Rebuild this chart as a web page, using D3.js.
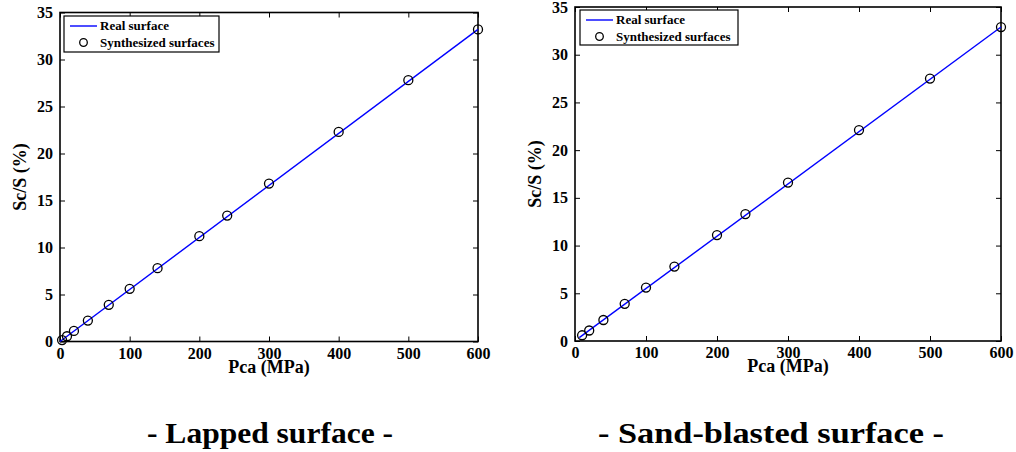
<!DOCTYPE html>
<html><head><meta charset="utf-8">
<script src="https://cdn.jsdelivr.net/npm/d3@7"></script>
<style>body{margin:0;background:#fff}svg{display:block}
text{font-family:"Liberation Serif","Times New Roman",Times,"DejaVu Serif",serif}</style>
</head><body>
<svg id="chart" width="1016" height="452"></svg>
<script>
// Data
const lappedPca = [3, 10, 20, 40, 70, 100, 140, 200, 240, 300, 400, 500, 600];
const lappedSc  = [0.15, 0.56, 1.12, 2.23, 3.9, 5.6, 7.8, 11.2, 13.4, 16.8, 22.3, 27.8, 33.2];
const lappedLineX = [0, 600];
const lappedLineY = [0, 33.2];
const sandPca = [10, 20, 40, 70, 100, 140, 200, 240, 300, 400, 500, 600];
const sandSc  = [0.6, 1.1, 2.2, 3.9, 5.6, 7.8, 11.1, 13.3, 16.6, 22.1, 27.5, 32.9];
const sandLineX = [6, 600];
const sandLineY = [0.35, 32.9];
const xTicks = [0, 100, 200, 300, 400, 500, 600];
const yTicks = [0, 5, 10, 15, 20, 25, 30, 35];
const legendLabels = ["Real surface", "Synthesized surfaces"];
const captions = ["- Lapped surface -", "- Sand-blasted surface -"];

const svg = d3.select("#chart");
const font = '"Liberation Serif", "Times New Roman", Times, "DejaVu Serif", serif';

function panel(cfg) {
  const {left, right, top, bottom, px, py, lx, ly, legend, caption} = cfg;
  const x = d3.scaleLinear().domain([0, 600]).range([left, right]);
  const y = d3.scaleLinear().domain([0, 35]).range([bottom, top]);
  const g = svg.append("g");
  g.append("rect").attr("x", left).attr("y", top).attr("width", right-left).attr("height", bottom-top)
    .attr("fill", "none").attr("stroke", "#000").attr("stroke-width", 1.6);
  const ax = [
    [d3.axisBottom(x).tickValues(xTicks).tickSize(-5).tickPadding(6), `translate(0,${bottom})`],
    [d3.axisTop(x).tickValues(xTicks).tickSize(-5).tickFormat(""), `translate(0,${top})`],
    [d3.axisLeft(y).tickValues(yTicks).tickSize(-5).tickPadding(7), `translate(${left},0)`],
    [d3.axisRight(y).tickValues(yTicks).tickSize(-5).tickFormat(""), `translate(${right},0)`]
  ];
  ax.forEach(([a, t]) => {
    const ag = g.append("g").attr("transform", t).call(a).attr("font-family", null);
    ag.select(".domain").remove();
    ag.selectAll(".tick line").attr("stroke", "#000").attr("stroke-width", 1);
    ag.selectAll(".tick text").style("font-family", font).attr("font-weight", "bold")
      .attr("font-size", 16).attr("fill", "#000");
  });
  const lineData = lx.map((v, i) => [v, ly[i]]);
  g.append("path").datum(lineData)
    .attr("d", d3.line().x(d => x(d[0])).y(d => y(d[1])))
    .attr("fill", "none").attr("stroke", "#0000ff").attr("stroke-width", 1.4);
  g.selectAll("circle.pt").data(px.map((v, i) => [v, py[i]])).join("circle")
    .attr("class", "pt").attr("cx", d => x(d[0])).attr("cy", d => y(d[1])).attr("r", 4.5)
    .attr("fill", "none").attr("stroke", "#000").attr("stroke-width", 1.3);
  g.append("text").attr("x", (left+right)/2).attr("y", bottom + 31)
    .attr("text-anchor", "middle").style("font-family", font).attr("font-weight", "bold")
    .attr("font-size", 18).text("Pca (MPa)");
  g.append("text").attr("transform", `translate(${left-34},${(top+bottom)/2}) rotate(-90)`)
    .attr("text-anchor", "middle").style("font-family", font).attr("font-weight", "bold")
    .attr("font-size", 18).text("Sc/S (%)");
  const L = legend;
  g.append("rect").attr("x", L.x).attr("y", L.y).attr("width", L.w).attr("height", L.h)
    .attr("fill", "#fff").attr("stroke", "#000").attr("stroke-width", 1.2);
  g.append("line").attr("x1", L.x+6).attr("x2", L.x+33).attr("y1", L.y+10).attr("y2", L.y+10)
    .attr("stroke", "#0000ff").attr("stroke-width", 1.4);
  g.append("circle").attr("cx", L.x+19.5).attr("cy", L.y+26.5).attr("r", 3.8)
    .attr("fill", "none").attr("stroke", "#000").attr("stroke-width", 1.3);
  legendLabels.forEach((t, i) => {
    g.append("text").attr("x", L.x+36).attr("y", L.y+14 + i*16.5)
      .style("font-family", font).attr("font-weight", "bold").attr("font-size", 13).text(t);
  });
  g.append("text").attr("x", caption.x).attr("y", caption.y).attr("text-anchor", "middle")
    .style("font-family", font).attr("font-size", 30).attr("textLength", caption.w)
    .attr("lengthAdjust", "spacingAndGlyphs").attr("font-weight", "bold").text(caption.t);
}

panel({left: 60, right: 478, top: 12.5, bottom: 341.5,
  px: lappedPca, py: lappedSc, lx: lappedLineX, ly: lappedLineY,
  legend: {x: 64, y: 16, w: 155, h: 36},
  caption: {x: 270, y: 443, w: 246, t: captions[0]}});
panel({left: 575, right: 1001, top: 7, bottom: 341,
  px: sandPca, py: sandSc, lx: sandLineX, ly: sandLineY,
  legend: {x: 580, y: 10, w: 158, h: 35},
  caption: {x: 771, y: 443, w: 346, t: captions[1]}});
</script>
</body></html>
